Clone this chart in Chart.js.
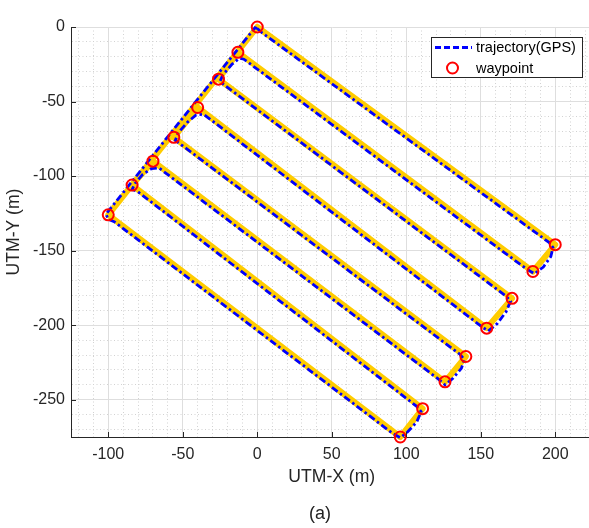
<!DOCTYPE html>
<html>
<head>
<meta charset="utf-8">
<script src="https://cdn.jsdelivr.net/npm/chart.js"></script>
<style>
  html, body { margin: 0; padding: 0; background: #fff; overflow: hidden; }
  #wrap { width: 600px; height: 528px; }
</style>
</head>
<body>
<div id="wrap"><canvas id="chart" width="600" height="528"></canvas></div>
<script>
// waypoints in visiting order (UTM m)
const wpX = [0, 200, 185, -13, -26, 171, 154, -40, -56, 140, 126, -70, -84, 111, 96, -100];
const wpY = [0, -146, -164, -17, -35, -182, -202, -54, -74, -221, -238, -90, -106, -256, -275, -126];

// GPS trajectory
const trajX = [0, 3, 196, 198.5, 197, 192, 186, 180,
    -9, -12, -17, -23, -25, -22,
    167, 170, 167, 161, 155, 150,
    -36, -41, -47, -53, -55, -51,
    136, 139, 137, 131, 126, 121,
    -66, -71, -77, -82, -84, -80,
    107, 110, 107, 101, 96, 91,
    -96, -100, -101.5, -50, -1.5, 0];
const trajY = [-1, -3.7, -144.6, -148, -154, -161, -165.5, -161.8,
    -21.6, -21, -25, -32, -36.5, -39,
    -180.5, -184, -191, -199, -204, -200.5,
    -58.5, -59, -64, -71, -76, -79,
    -219.5, -223, -229, -236, -240, -235.7,
    -94.5, -95, -99, -105, -109, -110.6,
    -254.4, -258, -265, -271.5, -275.5, -272.7,
    -130.6, -129, -125.5, -61, -0.5, -1];

const xRange = [-125, 225];
const yRange = [-275, 0];
const majorStep = 50;
const minorStep = 10;

const seriesNames = ['trajectory(GPS)', 'waypoint'];

const axisColor = '#262626';
const isMajor = v => Math.abs(v % majorStep) < 1e-6;

function toPts(xs, ys) {
    return xs.map((x, i) => ({ x: x, y: ys[i] }));
}

// planned path: waypoints then back to the start
const plannedPts = toPts(wpX.concat([wpX[0]]), wpY.concat([wpY[0]]));

// ticks on every multiple of minorStep inside the range
function setGridTicks(scale) {
    const ticks = [];
    for (let v = Math.ceil(scale.min / minorStep) * minorStep; v <= scale.max + 1e-9; v += minorStep) {
        ticks.push({ value: v });
    }
    scale.ticks = ticks;
}

function noPadding(s) {
    s.paddingLeft = 0;
    s.paddingRight = 0;
    s.paddingTop = 0;
    s.paddingBottom = 0;
}

function gridOpts() {
    return {
        drawTicks: false,
        lineWidth: 1,
        color: ctx => (ctx.tick && isMajor(ctx.tick.value)) ? '#dedede' : '#d2d2d2'
    };
}
function borderOpts() {
    return {
        display: true,
        color: axisColor,
        width: 1,
        dash: ctx => (ctx.tick && !isMajor(ctx.tick.value)) ? [1, 2.5] : []
    };
}

// MATLAB style inward tick marks
const innerTicks = {
    id: 'innerTicks',
    afterDatasetsDraw(chart) {
        const { ctx, chartArea: a, scales: { x, y } } = chart;
        ctx.save();
        ctx.strokeStyle = axisColor;
        ctx.lineWidth = 1;
        ctx.beginPath();
        x.ticks.forEach(t => {
            if (!isMajor(t.value)) return;
            const px = Math.round(x.getPixelForValue(t.value)) + 0.5;
            ctx.moveTo(px, a.bottom);
            ctx.lineTo(px, a.bottom - 5);
        });
        y.ticks.forEach(t => {
            if (!isMajor(t.value)) return;
            const py = Math.round(y.getPixelForValue(t.value)) + 0.5;
            ctx.moveTo(a.left, py);
            ctx.lineTo(a.left + 5, py);
        });
        ctx.stroke();
        ctx.restore();
    }
};

// legend box in the top-right corner + caption
const boxLegend = {
    id: 'boxLegend',
    afterDraw(chart) {
        const ctx = chart.ctx;
        const traj = chart.data.datasets[1];
        const wp = chart.data.datasets[0];
        ctx.save();
        ctx.fillStyle = '#fff';
        ctx.fillRect(431.5, 37.5, 151, 40);
        ctx.strokeStyle = axisColor;
        ctx.lineWidth = 1;
        ctx.strokeRect(431.5, 37.5, 151, 40);

        ctx.strokeStyle = traj.borderColor;
        ctx.lineWidth = traj.borderWidth;
        ctx.setLineDash([6, 3]);
        ctx.beginPath();
        ctx.moveTo(435, 47.5);
        ctx.lineTo(472, 47.5);
        ctx.stroke();
        ctx.setLineDash([]);

        ctx.strokeStyle = wp.borderColor;
        ctx.lineWidth = wp.pointBorderWidth;
        ctx.beginPath();
        ctx.arc(452.5, 68, wp.pointRadius, 0, Math.PI * 2);
        ctx.stroke();

        ctx.fillStyle = '#000';
        ctx.font = '14.5px "Liberation Sans", Arial, sans-serif';
        ctx.textBaseline = 'middle';
        ctx.fillText(traj.label, 476, 48);
        ctx.fillText(wp.label, 476, 68.5);

        ctx.fillStyle = '#222';
        ctx.font = '18px "Liberation Sans", Arial, sans-serif';
        ctx.textAlign = 'center';
        ctx.fillText('(a)', 320, 514);
        ctx.restore();
    }
};

new Chart(document.getElementById('chart'), {
    type: 'scatter',
    data: {
        datasets: [
            {
                label: seriesNames[1],
                data: toPts(wpX, wpY),
                showLine: false,
                pointRadius: 5.5,
                pointBorderWidth: 2,
                borderColor: '#ff0000',
                pointBorderColor: '#ff0000',
                backgroundColor: 'rgba(0,0,0,0)',
                pointBackgroundColor: 'rgba(0,0,0,0)',
                clip: false,
                order: 0
            },
            {
                label: seriesNames[0],
                data: toPts(trajX, trajY),
                showLine: true,
                borderColor: '#0000ff',
                borderWidth: 2.8,
                borderDash: [7, 3, 2.5, 3],
                pointRadius: 0,
                tension: 0,
                fill: false,
                clip: false,
                order: 1
            },
            {
                label: 'planned',
                data: plannedPts,
                showLine: true,
                borderColor: 'rgb(255,204,0)',
                borderWidth: 6,
                borderJoinStyle: 'round',
                borderCapStyle: 'round',
                pointRadius: 0,
                fill: false,
                clip: false,
                order: 2
            }
        ]
    },
    options: {
        responsive: false,
        animation: false,
        events: [],
        layout: { padding: { left: 0, right: 0, top: 27, bottom: 36 } },
        plugins: {
            legend: { display: false },
            tooltip: { enabled: false },
            title: { display: false }
        },
        scales: {
            x: {
                type: 'linear',
                min: xRange[0],
                max: xRange[1],
                grid: gridOpts(),
                border: borderOpts(),
                afterBuildTicks: setGridTicks,
                ticks: {
                    autoSkip: false,
                    maxRotation: 0,
                    padding: 8,
                    color: axisColor,
                    font: { family: '"Liberation Sans", Arial, sans-serif', size: 16 },
                    callback: v => isMajor(v) ? String(v) : ''
                },
                title: {
                    display: true,
                    text: 'UTM-X (m)',
                    color: axisColor,
                    font: { family: '"Liberation Sans", Arial, sans-serif', size: 17.6 }
                },
                afterFit: s => {
                    s.height = 55;
                    noPadding(s);
                }
            },
            y: {
                type: 'linear',
                min: yRange[0],
                max: yRange[1],
                grid: gridOpts(),
                border: borderOpts(),
                afterBuildTicks: setGridTicks,
                ticks: {
                    autoSkip: false,
                    padding: 6,
                    color: axisColor,
                    font: { family: '"Liberation Sans", Arial, sans-serif', size: 16 },
                    callback: v => isMajor(v) ? String(v) : ''
                },
                title: {
                    display: true,
                    text: 'UTM-Y (m)',
                    color: axisColor,
                    font: { family: '"Liberation Sans", Arial, sans-serif', size: 17.6 }
                },
                afterFit: s => {
                    s.width = 71;
                    noPadding(s);
                }
            }
        }
    },
    plugins: [innerTicks, boxLegend]
});
</script>
</body>
</html>
